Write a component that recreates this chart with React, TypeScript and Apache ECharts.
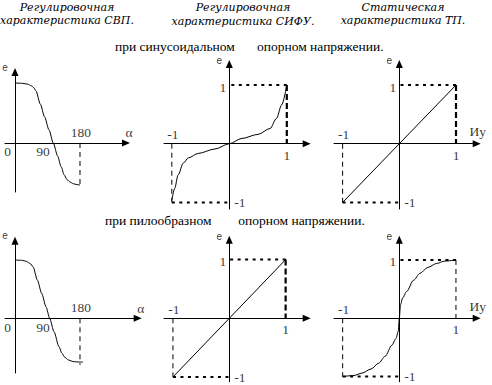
import React, { useEffect, useRef } from 'react';
import * as echarts from 'echarts';

// ---- data ----
const svpAlphaSin = [0, 20, 35, 45, 52, 58, 70, 82, 94, 106, 118, 128, 136, 144, 152, 162, 172, 180];
const svpESin = [1.0, 0.995, 0.98, 0.955, 0.92, 0.87, 0.65, 0.435, 0.22, 0, -0.215, -0.4, -0.53, -0.61, -0.65, -0.68, -0.695, -0.7];
const svpAlphaSaw = [0, 20, 32, 42, 50, 62, 74, 86, 96, 108, 122, 130, 138, 148, 160, 170, 180, 188];
const svpESaw = [1.0, 0.995, 0.975, 0.94, 0.885, 0.655, 0.425, 0.195, 0, -0.23, -0.49, -0.6, -0.67, -0.715, -0.74, -0.748, -0.75, -0.75];
const sifuSinU = [-1, -0.95, -0.89, -0.8, -0.71, -0.54, -0.25, 0, 0.22, 0.5, 0.71, 0.82, 0.91, 1];
const sifuSinE = [-0.97, -0.76, -0.53, -0.33, -0.24, -0.165, -0.09, 0, 0.09, 0.16, 0.26, 0.43, 0.66, 1.0];
const tpSinU = [-1, 1];
const tpSinE = [-1, 1];
const sifuSawU = [-1, 1];
const sifuSawE = [-1, 1];
const tpSawU = [-1, -0.8, -0.66, -0.5, -0.365, -0.25, -0.13, -0.06, -0.02, 0, 0.02, 0.06, 0.13, 0.25, 0.365, 0.5, 0.66, 0.8, 1];
const tpSawE = [-1, -0.98, -0.94, -0.87, -0.77, -0.65, -0.46, -0.35, -0.23, 0, 0.23, 0.35, 0.46, 0.65, 0.77, 0.87, 0.94, 0.98, 1];
const alphaTicks = [0, 90, 180];
const alphaTickLabels = ['0', '90', '180'];
const unitTicks = [1, -1];
const unitTickLabels = ['1', '-1'];
const svpSinDrop = -0.7;
const svpSawDrop = -0.8;
const titleLines = [
  ['Регулировочная', 'характеристика СВП.'],
  ['Регулировочная', 'характеристика СИФУ.'],
  ['Статическая', 'характеристика ТП.'],
];
const subtitleSin = ['при синусоидальном', 'опорном напряжении.'];
const subtitleSaw = ['при пилообразном', 'опорном напряжении.'];
const axisNameE = 'e';
const axisNameAlpha = 'α';
const axisNameU = 'Иу';

// ---- layout ----
const panels = [
  { left: 5, top: 72, width: 121, height: 120, xMin: -27.7, xMax: 307.4, yMin: -0.817, yMax: 1.183 },
  { left: 164, top: 64, width: 142.7, height: 145, xMin: -1.136, xMax: 1.346, yMin: -1.112, yMax: 1.358 },
  { left: 334, top: 64, width: 142.7, height: 145, xMin: -1.152, xMax: 1.365, yMin: -1.112, yMax: 1.358 },
  { left: 5, top: 240.7, width: 132.7, height: 132.3, xMin: -27.7, xMax: 339.8, yMin: -0.938, yMax: 1.331 },
  { left: 164, top: 239.7, width: 142.7, height: 142, xMin: -1.159, xMax: 1.374, yMin: -1.08, yMax: 1.339 },
  { left: 334, top: 239.7, width: 142.7, height: 142, xMin: -1.153, xMax: 1.366, yMin: -1.087, yMax: 1.347 },
];

const SERIF = 'Liberation Serif';
const SANS = 'Liberation Sans';
const ITALIC_SERIF = 'DejaVu Serif';
const BLACK = '#000000';

const zip = (xs: number[], ys: number[]) => xs.map((x, i) => [x, ys[i]]);

function curve(idx: number, data: number[][], smooth: number | boolean) {
  return {
    type: 'line', xAxisIndex: idx, yAxisIndex: idx, data, symbol: 'none', showSymbol: false,
    smooth, smoothMonotone: 'x', silent: true, z: 3,
    lineStyle: { color: BLACK, width: 1 },
  };
}

function guide(idx: number, data: number[][], kind: 'dot' | 'thick' | 'thin') {
  const st = kind === 'dot'
    ? { width: 2, type: [3, 4.5] }
    : kind === 'thick'
      ? { width: 2.2, type: [6, 3] }
      : { width: 1, type: [5, 4] };
  return {
    type: 'line', xAxisIndex: idx, yAxisIndex: idx, data, symbol: 'none', showSymbol: false,
    silent: true, z: 2,
    lineStyle: { color: BLACK, width: st.width, type: st.type as any, cap: 'butt' },
  };
}

type Lbl = { text: string; value: number[]; offset: number[]; font?: any };
function labels(idx: number, items: Lbl[]) {
  return {
    type: 'scatter', xAxisIndex: idx, yAxisIndex: idx, symbolSize: 0, silent: true, z: 5,
    itemStyle: { color: BLACK },
    label: {
      show: true, position: [0, 0], align: 'center', verticalAlign: 'middle',
      formatter: '{b}', color: BLACK, fontFamily: SERIF, fontSize: 13.5,
    },
    data: items.map((it) => ({
      name: it.text, value: it.value,
      label: { offset: it.offset, color: BLACK, ...(it.font || {}) },
    })),
  };
}

const eFont = { fontFamily: SANS, fontSize: 10 };

function unitPanel(idx: number, rightKind: 'thick' | 'thin', withU: boolean) {
  const p = panels[idx];
  const [pos, neg] = unitTicks;
  const items: Lbl[] = [
    { text: unitTickLabels[0], value: [pos, 0], offset: [0, 11.5] },
    { text: unitTickLabels[1], value: [neg, 0], offset: [1, -9] },
    { text: unitTickLabels[0], value: [0, pos], offset: [-6.5, 2] },
    { text: unitTickLabels[1], value: [0, neg], offset: [10.5, 0] },
    { text: axisNameE, value: [0, p.yMax], offset: [-10, -3.5], font: eFont },
  ];
  if (withU) items.push({ text: axisNameU, value: [p.xMax, 0], offset: [1, -12] });
  return [
    guide(idx, [[pos, pos], [0, pos]], 'dot'),
    guide(idx, [[pos, pos], [pos, 0]], rightKind),
    guide(idx, [[neg, 0], [neg, neg]], 'thin'),
    guide(idx, [[neg, neg], [0, neg]], 'dot'),
    labels(idx, items),
  ];
}

function alphaPanel(idx: number, drop: number) {
  const p = panels[idx];
  const offs = [[-7.5, 9], [-4.5, 9], [1, -10.5]];
  const items: Lbl[] = alphaTicks.map((a, i) => ({ text: alphaTickLabels[i], value: [a, 0], offset: offs[i] }));
  items.push({ text: axisNameE, value: [0, p.yMax], offset: [-10, -5], font: eFont });
  items.push({ text: axisNameAlpha, value: [p.xMax, 0], offset: [3, -10] });
  return [
    guide(idx, [[alphaTicks[2], 0], [alphaTicks[2], drop]], 'thin'),
    labels(idx, items),
  ];
}

function buildOption() {
  const grid = panels.map((p) => ({ left: p.left, top: p.top, width: p.width, height: p.height, containLabel: false }));
  const axisLine = {
    show: true, onZero: true, symbol: ['none', 'triangle'], symbolSize: [7, 8],
    lineStyle: { color: BLACK, width: 1 },
  };
  const common = {
    type: 'value', axisLine, axisTick: { show: false }, axisLabel: { show: false }, splitLine: { show: false },
  };
  const xAxis = panels.map((p, i) => ({ ...common, gridIndex: i, min: p.xMin, max: p.xMax }));
  const yAxis = panels.map((p, i) => ({ ...common, gridIndex: i, min: p.yMin, max: p.yMax }));

  const series: any[] = [
    curve(0, zip(svpAlphaSin, svpESin), 0.25),
    ...alphaPanel(0, svpSinDrop),
    curve(1, zip(sifuSinU, sifuSinE), 0.3),
    ...unitPanel(1, 'thick', false),
    curve(2, zip(tpSinU, tpSinE), false),
    ...unitPanel(2, 'thick', true),
    curve(3, zip(svpAlphaSaw, svpESaw), 0.25),
    ...alphaPanel(3, svpSawDrop),
    curve(4, zip(sifuSawU, sifuSawE), false),
    ...unitPanel(4, 'thick', false),
    curve(5, zip(tpSawU, tpSawE), 0.3),
    ...unitPanel(5, 'thin', true),
  ];

  const titleX = [67, 243, 403];
  const titleY = [[7, 20.5], [7.5, 21], [7.5, 20]];
  const graphic: any[] = [];
  titleLines.forEach((lines, i) => {
    lines.forEach((t, j) => {
      graphic.push({
        type: 'text', x: titleX[i], y: titleY[i][j], silent: true,
        style: {
          text: t, fill: BLACK, fontFamily: ITALIC_SERIF, fontStyle: 'italic', fontSize: 11,
          textAlign: 'center', textVerticalAlign: 'middle',
        },
      });
    });
  });
  const sub = (texts: string[], xs: number[], y: number) =>
    texts.forEach((t, i) => graphic.push({
      type: 'text', x: xs[i], y, silent: true,
      style: {
        text: t, fill: BLACK, fontFamily: SERIF, fontSize: 13.5,
        textAlign: 'left', textVerticalAlign: 'middle',
      },
    }));
  sub(subtitleSin, [115, 257], 46.7);
  sub(subtitleSaw, [105, 238.3], 220);

  return {
    animation: false,
    backgroundColor: '#fff',
    grid, xAxis, yAxis, series, graphic,
  };
}

export default function App() {
  const ref = useRef<HTMLDivElement>(null);
  useEffect(() => {
    if (!ref.current) return;
    const chart = echarts.init(ref.current, undefined, { renderer: 'svg' });
    chart.setOption(buildOption() as any);
    return () => chart.dispose();
  }, []);
  return (
    <div
      ref={ref}
      style={{ position: 'fixed', left: 0, top: 0, width: 492, height: 385, background: '#fff' }}
    />
  );
}
